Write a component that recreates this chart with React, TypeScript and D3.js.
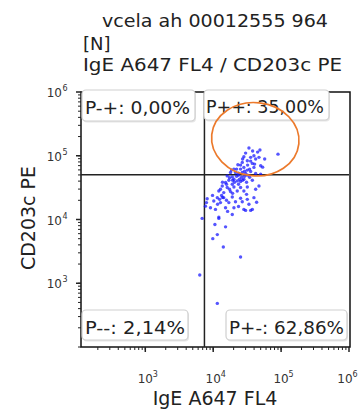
import React from 'react';
import * as d3 from 'd3';

// IgE A647 FL4 (x) / CD203c PE (y) events
const events: [number, number][] = [
  // upper right quadrant
  [33600, 132000], [48800, 123000], [39800, 100000], [35600, 94400], [42200, 88700],
  [28300, 96400], [31800, 83400], [37700, 75800], [26800, 78700], [23100, 72100],
  [28300, 65600], [25300, 61700], [20200, 61700], [31800, 59500], [39800, 65600],
  [47200, 94400], [50000, 69500], [21300, 54700], [18000, 54700], [26800, 54700],
  [35600, 56700], [30000, 52700], [42200, 52700], [90000, 106000], [32100, 71300],
  [35600, 82400], [22100, 61700], [53500, 66200], [45100, 114000], [38100, 119000],
  [30000, 110000], [27100, 88700], [57300, 88700], [50000, 51400], [25300, 71300],
  [34400, 61700], [40700, 74000], [18600, 59500], [29000, 57300], [23600, 53200],
  // lower quadrants
  [16100, 48300], [19100, 46600], [20200, 42900], [17000, 41300], [22600, 40300],
  [15200, 38000], [19100, 35700], [25300, 39400], [28300, 42900], [37700, 41300],
  [13600, 33600], [16100, 31700], [20200, 32400], [25300, 31700], [31800, 32400],
  [47200, 33600], [12100, 28000], [14300, 26400], [18000, 27400], [22600, 28000],
  [28300, 28000], [11500, 22000], [14300, 22000], [19100, 22500], [25300, 21500],
  [31800, 20700], [39800, 22000], [10200, 19500], [12800, 18400], [17000, 18400],
  [21300, 19000], [26800, 19000], [33600, 17300], [7690, 16200], [10800, 14400],
  [15200, 15300], [20200, 15300], [28300, 14400], [37700, 14400], [12100, 10900],
  [19100, 12000], [8150, 21200], [7960, 18400], [6870, 10400], [12100, 10400],
  [30000, 13900], [35600, 13900], [10600, 8340], [15200, 7670], [11500, 5800],
  [9860, 5010], [14100, 3710], [25300, 2580], [6340, 1350], [11500, 483],
  [23600, 49600], [26200, 46100], [29000, 47800], [24400, 42900], [20600, 38400],
  [17400, 45300], [32100, 49600], [34400, 46100], [13700, 22200], [12400, 20700],
  [15700, 20000], [13300, 23900], [17400, 29800], [11600, 17300], [9120, 15300],
  [9780, 23900], [16300, 13400], [23600, 16000], [42200, 29800], [13700, 38400],
  [19300, 25700], [31000, 24800], [43600, 18600], [22100, 47800], [27100, 41300],
  [19300, 41300], [31000, 38400], [23600, 35700], [15700, 35700], [12800, 29800],
];

const gateX = 7430;
const gateY = 50500;

// orange gate ellipse extents (data units)
const ellipseX = [9440, 184000];
const ellipseY = [48300, 681000];

const quadNames = ['P-+', 'P++', 'P--', 'P+-'];
const quadValues = ['0,00%', '35,00%', '2,14%', '62,86%'];

const xDecades = [3, 4, 5, 6];
const yDecades = [3, 4, 5, 6];

const titleLines = ['vcela ah 00012555 964', '[N]', 'IgE A647 FL4 / CD203c PE'];
const xLabel = 'IgE A647 FL4';
const yLabel = 'CD203c PE';

const font = '"DejaVu Sans", Verdana, sans-serif';

const minorTicks = (lo: number, hi: number) => {
  const out: number[] = [];
  for (let e = 2; e < 6; e++) {
    for (let m = 1; m < 10; m++) {
      const v = m * Math.pow(10, e);
      if (v >= lo && v <= hi) out.push(v);
    }
  }
  return out;
};

const App = () => {
  const left = 81, right = 349, top = 92, bottom = 347;
  const x = d3.scaleLog().domain([113, 1e6]).range([left, right]);
  const y = d3.scaleLog().domain([100, 1e6]).range([bottom, top]);

  const ex0 = x(ellipseX[0]), ex1 = x(ellipseX[1]);
  const ey0 = y(ellipseY[1]), ey1 = y(ellipseY[0]);
  const ecx = (ex0 + ex1) / 2, ecy = (ey0 + ey1) / 2;

  const gx = x(gateX);
  const gy = y(gateY);

  const boxes = [
    { x0: 82, x1: 195, y0: 90, y1: 121, tx: 85, ty: 114, tl: 105 },
    { x0: 204, x1: 329, y0: 90, y1: 120, tx: 206, ty: 113, tl: 118 },
    { x0: 82, x1: 188, y0: 310, y1: 340, tx: 85, ty: 334, tl: 100 },
    { x0: 226, x1: 347, y0: 310, y1: 340, tx: 229, ty: 334, tl: 115 },
  ];

  return (
    <svg width={359} height={410} style={{ position: 'absolute', left: 0, top: 0, background: '#fff' }}
      fontFamily={font}>
      <text x={215} y={27} textAnchor="middle" fontSize={18} fill="#222" textLength={226}
        lengthAdjust="spacingAndGlyphs">{titleLines[0]}</text>
      <text x={83} y={50} fontSize={18} fill="#222">{titleLines[1]}</text>
      <text x={83} y={71} fontSize={18} fill="#222" textLength={259}
        lengthAdjust="spacingAndGlyphs">{titleLines[2]}</text>

      {/* frame */}
      <rect x={left} y={top} width={right - left + 1} height={bottom - top} fill="none" stroke="#111" strokeWidth={1.5} />

      {/* minor / major ticks */}
      {minorTicks(100, 1e6).map((v, i) => (
        <line key={'ym' + i} x1={left - 3} x2={left} y1={y(v)} y2={y(v)} stroke="#222" strokeWidth={1} />
      ))}
      {yDecades.map((e) => (
        <g key={'yd' + e}>
          <line x1={left - 5} x2={left} y1={y(Math.pow(10, e))} y2={y(Math.pow(10, e))} stroke="#222" strokeWidth={1.5} />
          <text x={62} y={y(Math.pow(10, e)) + 5} textAnchor="end" fontSize={12} fill="#333">10</text>
          <text x={62.5} y={y(Math.pow(10, e)) - 1} fontSize={8} fill="#333">{e}</text>
        </g>
      ))}
      {minorTicks(113, 1e6).map((v, i) => (
        <line key={'xm' + i} x1={x(v)} x2={x(v)} y1={bottom} y2={bottom + 3} stroke="#222" strokeWidth={1} />
      ))}
      {xDecades.map((e) => (
        <g key={'xd' + e}>
          <line x1={x(Math.pow(10, e))} x2={x(Math.pow(10, e))} y1={bottom} y2={bottom + 5} stroke="#222" strokeWidth={1.5} />
          <text x={Math.min(x(Math.pow(10, e)), 345)} y={383} textAnchor="middle" fontSize={12} fill="#333">10</text>
          <text x={Math.min(x(Math.pow(10, e)), 345) + 7.5} y={377} fontSize={8} fill="#333">{e}</text>
        </g>
      ))}

      {/* quadrant lines */}
      <line x1={gx} x2={gx} y1={top} y2={bottom} stroke="#222" strokeWidth={1.5} />
      <line x1={left} x2={right} y1={gy} y2={gy} stroke="#222" strokeWidth={1.5} />

      {/* events */}
      {events.map((d, i) => (
        <circle key={i} cx={x(d[0])} cy={y(d[1])} r={1.7} fill="#1414ff" fillOpacity={0.72} />
      ))}

      {/* quadrant labels */}
      {boxes.map((b, i) => (
        <g key={'q' + i}>
          <rect x={b.x0 + 1} y={b.y0 + 1.5} width={b.x1 - b.x0} height={b.y1 - b.y0} rx={4} fill="#e6e6e6" />
          <rect x={b.x0} y={b.y0} width={b.x1 - b.x0} height={b.y1 - b.y0} rx={4} fill="#fff" stroke="#cfcfcf" strokeWidth={1.2} />
          <text x={b.tx} y={b.ty} fontSize={18} fill="#222" textLength={b.tl} lengthAdjust="spacingAndGlyphs">
            {quadNames[i] + ': ' + quadValues[i]}
          </text>
        </g>
      ))}

      {/* gate ellipse, drawn over the labels */}
      <ellipse cx={ecx} cy={ecy} rx={(ex1 - ex0) / 2} ry={(ey1 - ey0) / 2}
        transform={`rotate(6 ${ecx} ${ecy})`}
        fill="none" stroke="#ec7a2c" strokeWidth={1.7} />

      <text x={215} y={405} textAnchor="middle" fontSize={19} fill="#222">{xLabel}</text>
      <text transform="translate(35,218) rotate(-90)" textAnchor="middle" fontSize={19} fill="#222">{yLabel}</text>
    </svg>
  );
};

export default App;
